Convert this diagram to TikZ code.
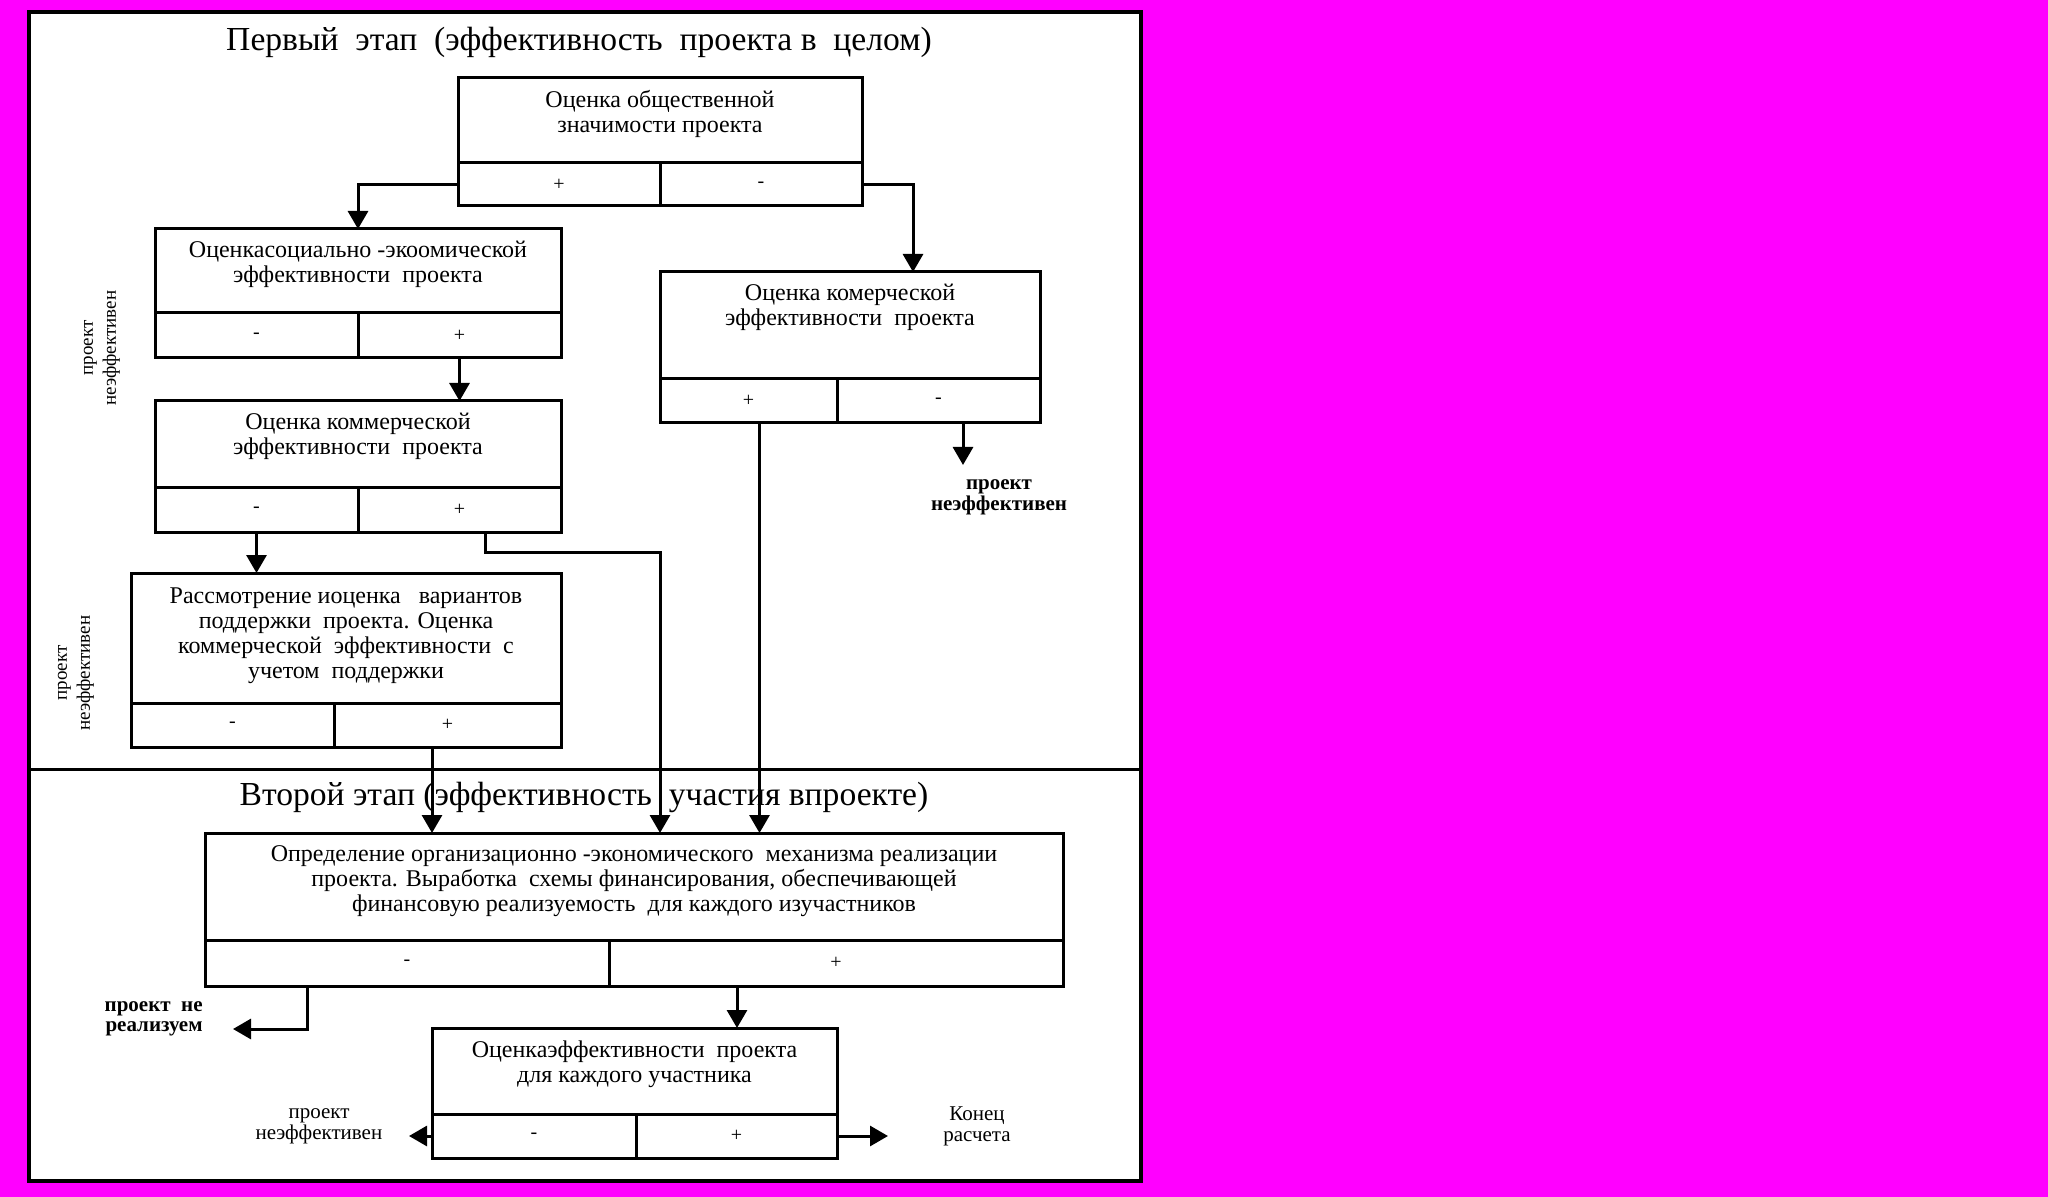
\documentclass[tikz,border=0pt]{standalone}
\usepackage{fontspec}
\setmainfont{Liberation Serif}
\usetikzlibrary{arrows.meta,positioning}
\definecolor{bgmag}{RGB}{255,0,255}
\tikzset{
  box/.style={draw, line width=1.5pt, inner sep=0pt, outer sep=0pt},
  boxtext/.style={align=center, inner sep=0pt, font=\fontsize{12}{12.5}\selectfont},
  sign/.style={box, font=\fontsize{10}{12}\selectfont},
  arr/.style={line width=1.5pt, -{Triangle[length=9pt,width=10pt]}},
  lab/.style={align=center, inner sep=0pt, font=\fontsize{10.5}{10.5}\selectfont},
  sidelab/.style={align=center, inner sep=0pt, rotate=90, font=\fontsize{9.5}{11.5}\selectfont},
  stagetitle/.style={inner sep=0pt, font=\fontsize{16.8}{18}\selectfont},
}

\begin{document}
\begin{tikzpicture}[x=0.5pt,y=-0.5pt]
    \useasboundingbox (0,0) rectangle (2048,1197);

    % Background and frame
    \fill[bgmag] (0,0) rectangle (2048,1197);
    \draw[line width=1.6pt, fill=white] (29,12) rectangle (1141,1181);
    \draw[line width=1.5pt] (29,769) -- (1141,769);

    % Stage titles
    \node[stagetitle] (stage1) at (579,42) {Первый\ \ этап\ \ (эффективность\ \ проекта в\ \ целом)};
    \node[stagetitle] (stage2) at (584,797) {Второй этап (эффективность\ \ участия впроекте)};

    % Social significance
    \node[box, minimum width=202pt, minimum height=42.5pt] (obs) at (660,120.5) {};
    \node[boxtext, below=6pt of obs.north] (obs-t) {Оценка общественной\\значимости проекта};
    \node[sign, minimum width=101pt, minimum height=21.5pt, below right=0pt of obs.south west] (obs-p) {+};
    \node[sign, minimum width=101pt, minimum height=21.5pt, below left=0pt of obs.south east] (obs-m) {-};

    % Socio-economic efficiency
    \node[box, minimum width=203pt, minimum height=42pt] (soc) at (358,271) {};
    \node[boxtext, below=6pt of soc.north] (soc-t) {Оценкасоциально -экоомической\\эффективности\ \ проекта};
    \node[sign, minimum width=101.5pt, minimum height=22.5pt, below right=0pt of soc.south west] (soc-m) {-};
    \node[sign, minimum width=101.5pt, minimum height=22.5pt, below left=0pt of soc.south east] (soc-p) {+};

    % Commercial efficiency (right branch)
    \node[box, minimum width=190pt, minimum height=53.5pt] (kom1) at (850,325.5) {};
    \node[boxtext, below=6pt of kom1.north] (kom1-t) {Оценка комерческой\\эффективности\ \ проекта};
    \node[sign, minimum width=88.5pt, minimum height=22pt, below right=0pt of kom1.south west] (kom1-p) {+};
    \node[sign, minimum width=101.5pt, minimum height=22pt, below left=0pt of kom1.south east] (kom1-m) {-};

    % Commercial efficiency (left branch)
    \node[box, minimum width=203pt, minimum height=43pt] (kom2) at (358,444) {};
    \node[boxtext, below=6pt of kom2.north] (kom2-t) {Оценка коммерческой\\эффективности\ \ проекта};
    \node[sign, minimum width=101.5pt, minimum height=22.5pt, below right=0pt of kom2.south west] (kom2-m) {-};
    \node[sign, minimum width=101.5pt, minimum height=22.5pt, below left=0pt of kom2.south east] (kom2-p) {+};

    % Support variants
    \node[box, minimum width=215pt, minimum height=65pt] (podd) at (346,638) {};
    \node[boxtext, below=7pt of podd.north] (podd-t) {Рассмотрение иоценка\ \ \ вариантов\\поддержки\ \ проекта. Оценка\\коммерческой\ \ эффективности\ \ с\\учетом\ \ поддержки};
    \node[sign, minimum width=101.5pt, minimum height=22pt, below right=0pt of podd.south west] (podd-m) {-};
    \node[sign, minimum width=113.5pt, minimum height=22pt, below left=0pt of podd.south east] (podd-p) {+};

    % Stage 2: mechanism of realisation
    \node[box, minimum width=429pt, minimum height=53.5pt] (mech) at (634,886.5) {};
    \node[boxtext, below=6pt of mech.north] (mech-t) {Определение организационно -экономического\ \ механизма реализации\\проекта. Выработка\ \ схемы финансирования, обеспечивающей\\финансовую реализуемость\ \ для каждого изучастников};
    \node[sign, minimum width=202pt, minimum height=23pt, below right=0pt of mech.south west] (mech-m) {-};
    \node[sign, minimum width=227pt, minimum height=23pt, below left=0pt of mech.south east] (mech-p) {+};

    % Efficiency for each participant
    \node[box, minimum width=202.5pt, minimum height=43pt] (eff) at (634.5,1071) {};
    \node[boxtext, below=6pt of eff.north] (eff-t) {Оценкаэффективности\ \ проекта\\для каждого участника};
    \node[sign, minimum width=102pt, minimum height=22pt, below right=0pt of eff.south west] (eff-m) {-};
    \node[sign, minimum width=100.5pt, minimum height=22pt, below left=0pt of eff.south east] (eff-p) {+};

    % Outcome labels
    \node[sidelab] (neef1) at (102,348) {проект\\неэффективен};
    \node[sidelab] (neef2) at (76,673) {проект\\неэффективен};
    \node[lab, font=\fontsize{10.5}{10.5}\selectfont\bfseries] (neef3) at (999,497) {проект\\неэффективен};
    \node[lab, align=right, anchor=east, font=\fontsize{10.5}{10}\selectfont\bfseries] (nereal) at (203,1018.5) {проект\ \ не\\реализуем};
    \node[lab] (neef4) at (319,1126) {проект\\неэффективен};
    \node[lab] (konec) at (977,1126) {Конец\\расчета};

    % Free ends of arrows
    \coordinate (k1end) at (963,465);
    \coordinate (nrturn) at (307,1029);
    \coordinate (nrend) at (233,1029);
    \coordinate (effl) at (409,1136);
    \coordinate (effr) at (888,1136);

    % Connectors, stage 1
    \draw[arr] (obs-p.west) -| (soc.north);
    \draw[arr] (obs-m.east) -| ([xshift=31.5pt]kom1.north);
    \draw[arr] (soc-p.south) -- (kom2.north -| soc-p.south);
    \draw[arr] (kom2-m.south) -- (podd.north -| kom2-m.south);
    \draw[arr] (kom1-m.south -| k1end) -- (k1end);

    % Connectors into stage 2
    \draw[arr] ([xshift=13pt]kom2-p.south) -- ++(0,20) -| ([xshift=13pt]mech.north);
    \draw[arr] ([xshift=5.5pt]kom1-p.south) -- ([xshift=5.5pt]kom1-p.south |- mech.north);
    \draw[arr] ([xshift=-7.75pt]podd-p.south) -- ([xshift=-7.75pt]podd-p.south |- mech.north);

    % Connectors, stage 2
    \draw[arr] (mech-m.south -| nrturn) -- (nrturn) -- (nrend);
    \draw[arr] ([xshift=-49.5pt]mech-p.south) -- ([xshift=-49.5pt]mech-p.south |- eff.north);
    \draw[arr] (eff-m.west) -- (effl);
    \draw[arr] (eff-p.east) -- (effr);

\end{tikzpicture}
\end{document}
